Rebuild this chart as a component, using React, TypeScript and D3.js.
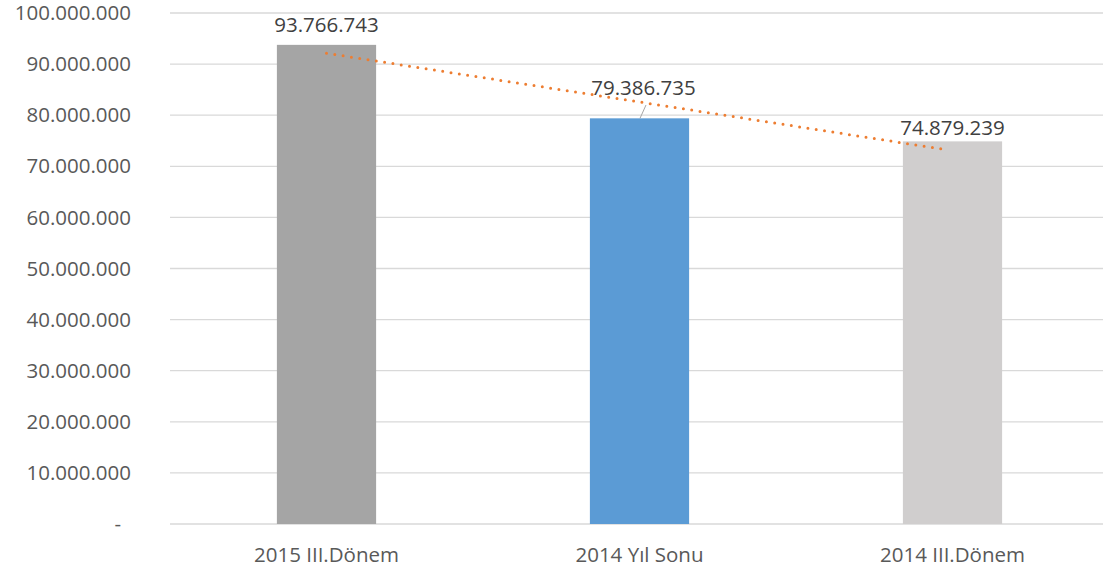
import React from "react";
import * as d3 from "d3";

const categories = ["2015 III.Dönem", "2014 Yıl Sonu", "2014 III.Dönem"];
const values = [93766743, 79386735, 74879239];
const barColors = ["#A5A5A5", "#5B9BD5", "#D0CECE"];
const yTicks = [0, 10000000, 20000000, 30000000, 40000000, 50000000, 60000000, 70000000, 80000000, 90000000, 100000000];
const labelOffsets = [13, 23, 6];

const W = 1103, H = 573;
const left = 170, right = 1109, top = 13, bottom = 524;

const fmt = (v: number) => (v === 0 ? "-" : d3.format(",")(v).replace(/,/g, "."));

export default function App() {
  const x = d3.scaleBand<string>().domain(categories).range([left, right]).paddingInner(0.683).paddingOuter(0.3415);
  const y = d3.scaleLinear().domain([0, 100000000]).range([bottom, top]);
  const n = values.length;
  const xs = values.map((_, i) => i + 1);
  const mx = d3.mean(xs)!;
  const my = d3.mean(values)!;
  const slope = d3.sum(xs.map((xi, i) => (xi - mx) * (values[i] - my))) / d3.sum(xs.map((xi) => (xi - mx) ** 2));
  const icpt = my - slope * mx;
  const cx = (i: number) => x(categories[i])! + x.bandwidth() / 2;
  const trendPts: [number, number][] = [
    [cx(0), y(icpt + slope * 1)],
    [cx(n - 1) - 6, y(icpt + slope * n)],
  ];
  const font = "'Open Sans', sans-serif";
  const fs = 20.5;
  return (
    <svg width={W} height={H} style={{ position: "absolute", left: 0, top: 0, background: "#fff" }}>
      {yTicks.map((t) => (
        <g key={t}>
          <line x1={left} x2={W} y1={y(t)} y2={y(t)} stroke="#d9d9d9" strokeWidth={1.3} />
          <text x={t === 0 ? 121 : 131} y={y(t)} dy="0.35em" textAnchor="end" fontFamily={font} fontSize={fs} fill="#595959">
            {fmt(t)}
          </text>
        </g>
      ))}
      {values.map((v, i) => (
        <rect key={i} x={x(categories[i])} y={y(v)} width={x.bandwidth()} height={y(0) - y(v)} fill={barColors[i]} />
      ))}
      <line x1={646} y1={105} x2={640} y2={y(values[1])} stroke="#a6a6a6" strokeWidth={1} />
      <path
        d={d3.line()(trendPts)!}
        fill="none"
        stroke="#ED7D31"
        strokeWidth={3}
        strokeDasharray="0 8.4"
        strokeLinecap="round"
      />
      {values.map((v, i) => (
        <text key={i} x={cx(i) + (i === 1 ? 4 : 0)} y={y(v) - labelOffsets[i]} textAnchor="middle" fontFamily={font} fontSize={fs} fill="#404040">
          {fmt(v)}
        </text>
      ))}
      {categories.map((c, i) => (
        <text key={c} x={cx(i)} y={562} textAnchor="middle" fontFamily={font} fontSize={fs} fill="#595959">
          {c}
        </text>
      ))}
    </svg>
  );
}
